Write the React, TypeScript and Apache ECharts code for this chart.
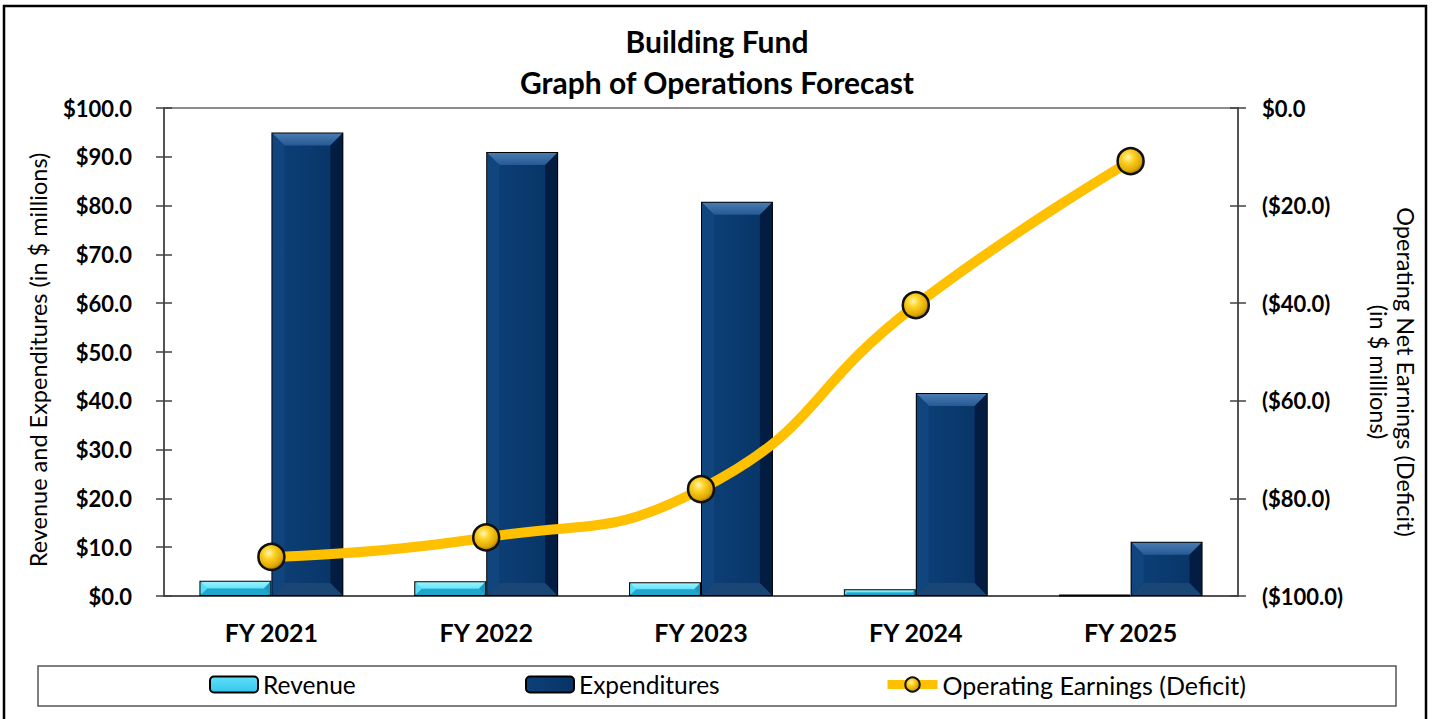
import React, { useEffect, useRef } from "react";
import * as echarts from "echarts";

const categories = ["FY 2021", "FY 2022", "FY 2023", "FY 2024", "FY 2025"];
const revenue = [3.1, 3.0, 2.8, 1.4, 0.2];
const expenditures = [95.0, 91.0, 80.8, 41.6, 11.1];
const operatingEarnings = [-92.0, -88.0, -78.1, -40.4, -10.9];
const seriesNames = ["Revenue", "Expenditures", "Operating Earnings (Deficit)"];
const titleText = "Building Fund\nGraph of Operations Forecast";
const leftAxisName = "Revenue and Expenditures (in $ millions)";
const rightAxisName = "Operating Net Earnings (Deficit)\n(in $ millions)";

const FONT = "Lato, 'Open Sans', sans-serif";
const CATEGORY_GAP = 0.33;

type Bevel = { top: any; bottom: string; left: string; right: string };

function bevelRenderer(side: 0 | 1, colors: Bevel) {
  return (params: any, api: any) => {
    const idx = api.value(0);
    const val = api.value(1);
    const topPt = api.coord([idx, val]);
    const basePt = api.coord([idx, 0]);
    const band = api.size([1, 0])[0];
    const bw = (band * (1 - CATEGORY_GAP)) / 2;
    const x0 = side === 0 ? topPt[0] - bw : topPt[0];
    const L = x0 + 1;
    const R = x0 + bw - 1;
    const T = topPt[1] + 1;
    const B = basePt[1] - 1;
    const h = B - T;
    if (h <= 2) return null;
    const d = Math.min(12, h / 2, (R - L) / 2);
    return {
      type: "group",
      silent: true,
      children: [
        { type: "polygon", shape: { points: [[L, T], [R, T], [R - d, T + d], [L + d, T + d]] }, style: { fill: colors.top } },
        { type: "polygon", shape: { points: [[L, B], [R, B], [R - d, B - d], [L + d, B - d]] }, style: { fill: colors.bottom } },
        { type: "polygon", shape: { points: [[L, T], [L + d, T + d], [L + d, B - d], [L, B]] }, style: { fill: colors.left } },
        { type: "polygon", shape: { points: [[R, T], [R - d, T + d], [R - d, B - d], [R, B]] }, style: { fill: colors.right } },
      ],
    };
  };
}

export default function App() {
  const ref = useRef<HTMLDivElement>(null);
  useEffect(() => {
    const chart = echarts.init(ref.current!, null, { renderer: "svg" });
    const revFill = {
      type: "linear", x: 0, y: 0, x2: 0, y2: 1,
      colorStops: [
        { offset: 0, color: "#5fe0fb" },
        { offset: 1, color: "#36c6ea" },
      ],
    };
    const expFill = {
      type: "linear", x: 0, y: 0, x2: 1, y2: 0,
      colorStops: [
        { offset: 0, color: "#0d4078" },
        { offset: 0.5, color: "#0a3a6f" },
        { offset: 1, color: "#073465" },
      ],
    };
    const revBevel: Bevel = {
      top: { type: "linear", x: 0, y: 0, x2: 0, y2: 1, colorStops: [{ offset: 0, color: "#9af2ff" }, { offset: 1, color: "#66e3fb" }] },
      bottom: "#1fa6cd",
      left: "#58dcf8",
      right: "#1a98c0",
    };
    const expBevel: Bevel = {
      top: { type: "linear", x: 0, y: 0, x2: 0, y2: 1, colorStops: [{ offset: 0, color: "#4a7bb2" }, { offset: 1, color: "#265993" }] },
      bottom: "#1a4676",
      left: "#10457e",
      right: "#031d42",
    };
    const ballFill = {
      type: "radial", x: 0.4, y: 0.35, r: 0.7,
      colorStops: [
        { offset: 0, color: "#fff7b8" },
        { offset: 0.3, color: "#ffd42a" },
        { offset: 0.75, color: "#e0a800" },
        { offset: 1, color: "#8a6600" },
      ],
    };
    const yLabelStyle = { fontFamily: FONT, fontSize: 22, fontWeight: "bold", color: "#000" };
    const xLabelStyle = { fontFamily: FONT, fontSize: 25, fontWeight: "bold", color: "#000" };
    const legendText = { fontFamily: FONT, fontSize: 24.5, color: "#000" };
    const axisLineStyle = { color: "#404040", width: 1.5 };

    const option: any = {
      animation: false,
      backgroundColor: "#fff",
      title: {
        text: titleText,
        left: "center",
        top: 20,
        padding: 0,
        textStyle: { fontFamily: FONT, fontSize: 30, fontWeight: "bold", color: "#000", lineHeight: 41 },
      },
      grid: {
        left: 164, right: 196, top: 108, bottom: 123,
        show: true, borderColor: "#8c8c8c", borderWidth: 2, backgroundColor: "transparent",
      },
      legend: [
        {
          data: [seriesNames[0]], left: 209, top: 672, itemWidth: 48, itemHeight: 16,
          textStyle: legendText, padding: 0,
        },
        {
          data: [seriesNames[1]], left: 525, top: 672, itemWidth: 48, itemHeight: 16,
          textStyle: legendText, padding: 0,
        },
        {
          data: [seriesNames[2]], left: 883, top: 672, itemWidth: 50, itemHeight: 18,
          textStyle: { ...legendText, fontSize: 25 }, padding: 0,
          lineStyle: { width: 9 },
        },
      ],
      xAxis: {
        type: "category",
        data: categories,
        axisLine: { show: true, lineStyle: axisLineStyle },
        axisTick: { show: false },
        axisLabel: { ...xLabelStyle, margin: 23 },
        splitLine: { show: false },
      },
      yAxis: [
        {
          type: "value", position: "left", min: 0, max: 100, interval: 10,
          axisLine: { show: true, lineStyle: axisLineStyle },
          axisTick: { show: true, length: 8, lineStyle: axisLineStyle },
          axisLabel: { ...yLabelStyle, margin: 32, formatter: (v: number) => "$" + v.toFixed(1) },
          splitLine: { show: false },
        },
        {
          type: "value", position: "right", min: -100, max: 0, interval: 20,
          axisLine: { show: true, lineStyle: axisLineStyle },
          axisTick: { show: true, length: 8, lineStyle: axisLineStyle },
          axisLabel: {
            ...yLabelStyle, margin: 24,
            formatter: (v: number) => (v === 0 ? "$0.0" : "($" + Math.abs(v).toFixed(1) + ")"),
          },
          splitLine: { show: false },
        },
        {
          type: "value", position: "left", min: 0, max: 100, interval: 10,
          axisLine: { show: false },
          axisTick: { show: true, inside: true, length: 8, lineStyle: axisLineStyle },
          axisLabel: { show: false },
          splitLine: { show: false },
        },
        {
          type: "value", position: "right", min: -100, max: 0, interval: 20,
          axisLine: { show: false },
          axisTick: { show: true, inside: true, length: 8, lineStyle: axisLineStyle },
          axisLabel: { show: false },
          splitLine: { show: false },
        },
      ],
      series: [
        {
          name: seriesNames[0], type: "bar", data: revenue, yAxisIndex: 0,
          barGap: "0%", barCategoryGap: CATEGORY_GAP * 100 + "%",
          itemStyle: { color: revFill, borderColor: "#000", borderWidth: 2 },
          z: 2,
        },
        {
          name: seriesNames[1], type: "bar", data: expenditures, yAxisIndex: 0,
          barGap: "0%", barCategoryGap: CATEGORY_GAP * 100 + "%",
          itemStyle: { color: expFill, borderColor: "#000", borderWidth: 2 },
          z: 2,
        },
        {
          name: "Revenue bevel", type: "custom", yAxisIndex: 0, silent: true, z: 3,
          data: revenue.map((v, i) => [i, v]),
          renderItem: bevelRenderer(0, revBevel),
          tooltip: { show: false },
        },
        {
          name: "Expenditures bevel", type: "custom", yAxisIndex: 0, silent: true, z: 3,
          data: expenditures.map((v, i) => [i, v]),
          renderItem: bevelRenderer(1, expBevel),
          tooltip: { show: false },
        },
        {
          name: seriesNames[2], type: "line", data: operatingEarnings, yAxisIndex: 1,
          smooth: 0.5,
          symbol: "circle", symbolSize: 26,
          lineStyle: { color: "#FFC000", width: 10 },
          itemStyle: { color: ballFill, borderColor: "#111", borderWidth: 2.5 },
          z: 5,
        },
      ],
      graphic: [
        {
          type: "rect", z: -1, silent: true,
          shape: { x: 4, y: 6, width: 1422, height: 730 },
          style: { fill: "none", stroke: "#000", lineWidth: 2.5 },
        },
        {
          type: "rect", z: -1, silent: true,
          shape: { x: 38, y: 666, width: 1358, height: 40 },
          style: { fill: "none", stroke: "#555", lineWidth: 1.5 },
        },
        {
          type: "text", x: 38, y: 360, rotation: Math.PI / 2, silent: true,
          style: {
            text: leftAxisName, fontFamily: FONT, fontSize: 23.5, fill: "#000",
            align: "center", verticalAlign: "middle",
          },
        },
        {
          type: "text", x: 1392, y: 372, rotation: -Math.PI / 2, silent: true,
          style: {
            text: rightAxisName, fontFamily: FONT, fontSize: 23.5, fill: "#000",
            align: "center", verticalAlign: "middle", lineHeight: 27,
          },
        },
      ],
    };
    chart.setOption(option);
    return () => chart.dispose();
  }, []);
  return (
    <div
      ref={ref}
      style={{ position: "fixed", left: 0, top: 0, width: 1434, height: 719, background: "#fff" }}
    />
  );
}
